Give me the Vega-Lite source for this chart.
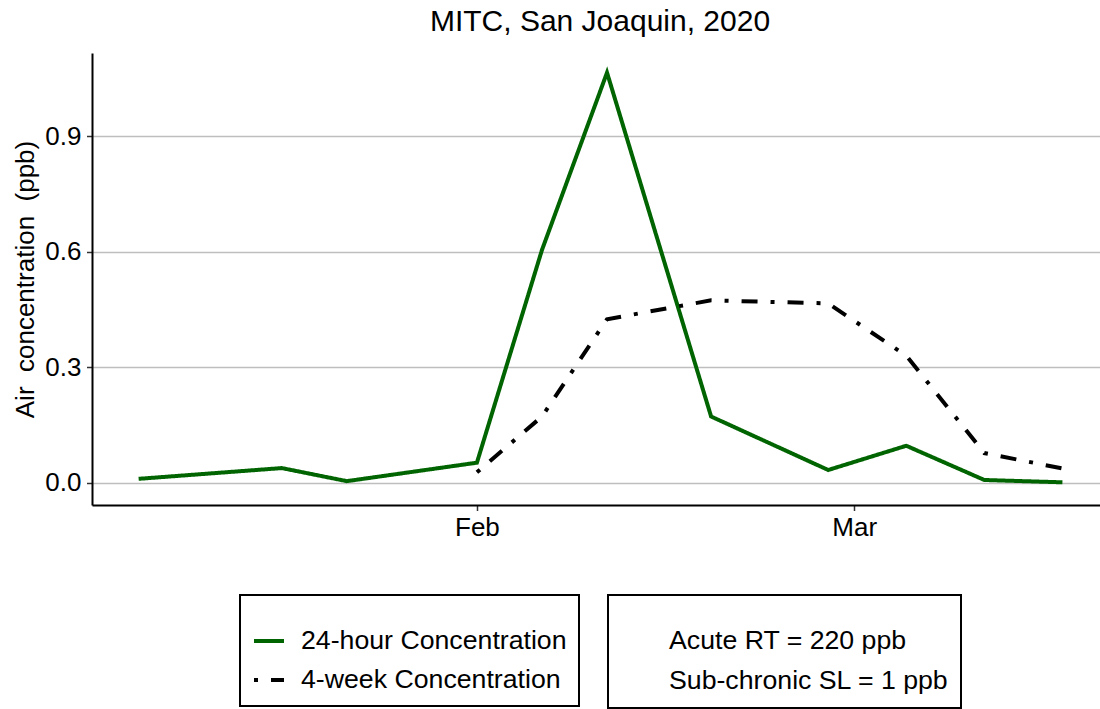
{
  "$schema": "https://vega.github.io/schema/vega-lite/v6.json",
  "width": 1008,
  "height": 452,
  "autosize": {"type": "none"},
  "padding": {"left": 92, "top": 53, "right": 0, "bottom": 204},
  "title": {"text": "MITC, San Joaquin, 2020", "fontSize": 30, "fontWeight": "normal", "color": "black", "anchor": "middle", "dx": 4, "offset": 16},
  "layer": [
    {
      "data": {"values": [
        {"date": "2020-01-06", "series": "24-hour Concentration", "value": 0.010},
        {"date": "2020-01-17", "series": "24-hour Concentration", "value": 0.038},
        {"date": "2020-01-22", "series": "24-hour Concentration", "value": 0.004},
        {"date": "2020-02-01", "series": "24-hour Concentration", "value": 0.052},
        {"date": "2020-02-06", "series": "24-hour Concentration", "value": 0.605},
        {"date": "2020-02-11", "series": "24-hour Concentration", "value": 1.066},
        {"date": "2020-02-19", "series": "24-hour Concentration", "value": 0.172},
        {"date": "2020-02-28", "series": "24-hour Concentration", "value": 0.033},
        {"date": "2020-03-05", "series": "24-hour Concentration", "value": 0.096},
        {"date": "2020-03-11", "series": "24-hour Concentration", "value": 0.007},
        {"date": "2020-03-17", "series": "24-hour Concentration", "value": 0.001},
        {"date": "2020-02-01", "series": "4-week Concentration", "value": 0.027},
        {"date": "2020-02-06", "series": "4-week Concentration", "value": 0.172},
        {"date": "2020-02-11", "series": "4-week Concentration", "value": 0.425},
        {"date": "2020-02-19", "series": "4-week Concentration", "value": 0.474},
        {"date": "2020-02-28", "series": "4-week Concentration", "value": 0.466},
        {"date": "2020-03-05", "series": "4-week Concentration", "value": 0.330},
        {"date": "2020-03-11", "series": "4-week Concentration", "value": 0.077},
        {"date": "2020-03-17", "series": "4-week Concentration", "value": 0.037}
      ]},
      "mark": {"type": "line", "strokeWidth": 4, "clip": true},
      "encoding": {
        "x": {
          "field": "date", "type": "temporal",
          "scale": {"type": "utc", "domain": [
            {"year": 2020, "month": 1, "date": 2, "hours": 10, "utc": true},
            {"year": 2020, "month": 3, "date": 19, "hours": 21, "minutes": 20, "utc": true}
          ]},
          "axis": {
            "title": null, "grid": false, "format": "%b", "labelAngle": 0,
            "labelFontSize": 26, "labelColor": "black", "labelFont": "Liberation Sans", "labelPadding": 4,
            "domainColor": "black", "domainWidth": 2,
            "tickColor": "#333333", "tickWidth": 1.5, "tickSize": 5.5,
            "values": [
              {"year": 2020, "month": 2, "date": 1, "utc": true},
              {"year": 2020, "month": 3, "date": 1, "utc": true}
            ]
          }
        },
        "y": {
          "field": "value", "type": "quantitative",
          "scale": {"domain": [-0.058, 1.117], "nice": false, "zero": false},
          "axis": {
            "title": "Air \u00a0concentration \u00a0(ppb)",
            "titleFontSize": 26, "titleFontWeight": "normal", "titleColor": "black", "titleFont": "Liberation Sans",
            "labelFontSize": 26, "labelColor": "black", "labelFont": "Liberation Sans", "labelPadding": 5.5,
            "domainColor": "black", "domainWidth": 2,
            "tickColor": "#333333", "tickWidth": 1.5, "tickSize": 5.5,
            "values": [0, 0.3, 0.6, 0.9], "format": ".1f",
            "grid": true, "gridColor": "#bebebe", "gridWidth": 1.5,
            "titlePadding": 6.5
          }
        },
        "color": {
          "field": "series", "type": "nominal",
          "scale": {"domain": ["24-hour Concentration", "4-week Concentration"], "range": ["#006400", "#000000"]},
          "legend": {"title": " ", "orient": "none", "legendX": 148, "legendY": 542}
        },
        "strokeDash": {
          "field": "series", "type": "nominal",
          "scale": {"domain": ["24-hour Concentration", "4-week Concentration"], "range": [[1, 0], [4, 13, 16, 13]]},
          "legend": {"title": " ", "orient": "none", "legendX": 148, "legendY": 542}
        }
      }
    },
    {
      "data": {"values": [
        {"label": "Acute RT = 220 ppb"},
        {"label": "Sub-chronic SL = 1 ppb"}
      ]},
      "mark": {"type": "point", "opacity": 0},
      "encoding": {
        "shape": {
          "field": "label", "type": "nominal",
          "legend": {"title": " ", "orient": "none", "legendX": 516, "legendY": 542, "symbolOpacity": 0}
        }
      }
    }
  ],
  "config": {
    "font": "Liberation Sans",
    "view": {"stroke": null},
    "legend": {
      "labelFontSize": 26.7, "labelColor": "black", "labelFont": "Liberation Sans",
      "strokeColor": "black", "strokeWidth": 2, "padding": 12,
      "symbolType": "stroke", "symbolSize": 900, "symbolStrokeWidth": 4,
      "labelOffset": 15, "rowPadding": 8,
      "titleFontSize": 8, "titlePadding": 9, "labelLimit": 400
    }
  }
}
